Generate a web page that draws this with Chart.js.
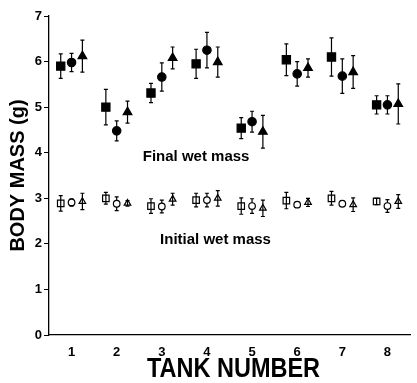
<!DOCTYPE html>
<html>
<head>
<meta charset="utf-8">
<script src="https://cdn.jsdelivr.net/npm/chart.js@4/dist/chart.umd.min.js"></script>
<style>
html,body{margin:0;padding:0;background:#fff;}
#wrap{width:417px;height:383px;}
</style>
</head>
<body>
<div id="wrap"><canvas id="c" width="417" height="383"></canvas></div>
<script>
const tanks = [1, 2, 3, 4, 5, 6, 7, 8];
const yTicks = [0, 1, 2, 3, 4, 5, 6, 7];

// Final wet mass (filled markers)
const finalSquare   = [5.90, 5.00, 5.31, 5.95, 4.54, 6.04, 6.10, 5.05];
const finalSquareE  = [0.27, 0.39, 0.21, 0.32, 0.23, 0.35, 0.42, 0.20];
const finalCircle   = [5.98, 4.48, 5.66, 6.25, 4.68, 5.73, 5.68, 5.05];
const finalCircleE  = [0.20, 0.22, 0.31, 0.39, 0.23, 0.27, 0.38, 0.20];
const finalTri      = [6.12, 4.89, 6.08, 5.99, 4.46, 5.86, 5.77, 5.07];
const finalTriE     = [0.35, 0.24, 0.24, 0.33, 0.36, 0.20, 0.36, 0.44];

// Initial wet mass (open markers)
const initSquare    = [2.89, 3.00, 2.83, 2.96, 2.83, 2.95, 3.00, 2.93];
const initSquareE   = [0.17, 0.13, 0.16, 0.15, 0.18, 0.18, 0.15, 0.07];
const initCircle    = [2.91, 2.88, 2.82, 2.96, 2.83, 2.86, 2.88, 2.83];
const initCircleE   = [0.08, 0.15, 0.14, 0.15, 0.16, 0.06, 0.06, 0.14];
const initTri       = [2.93, 2.89, 2.98, 3.00, 2.78, 2.91, 2.86, 2.93];
const initTriE      = [0.18, 0.06, 0.13, 0.17, 0.18, 0.09, 0.15, 0.15];

const xTitle = 'TANK NUMBER';
const OFF = 0.24;
function pts(vals, off) { return vals.map((v, i) => ({x: tanks[i] + off, y: v})); }

function ds(vals, errs, off, style, radius, fill) {
  return {
    data: pts(vals, off),
    err: errs,
    pointStyle: style,
    pointRadius: radius,
    pointHoverRadius: radius,
    pointBackgroundColor: fill,
    pointBorderColor: '#000',
    pointBorderWidth: 1.2,
    showLine: false
  };
}

const errorBars = {
  id: 'errorBars',
  beforeDatasetsDraw(chart) {
    const ctx = chart.ctx, ys = chart.scales.y;
    ctx.save();
    ctx.strokeStyle = '#000';
    ctx.lineWidth = 1.2;
    chart.data.datasets.forEach((d, di) => {
      const meta = chart.getDatasetMeta(di);
      d.data.forEach((p, i) => {
        const x = meta.data[i].x;
        const y1 = ys.getPixelForValue(p.y - d.err[i]);
        const y2 = ys.getPixelForValue(p.y + d.err[i]);
        ctx.beginPath();
        ctx.moveTo(x, y1); ctx.lineTo(x, y2);
        ctx.moveTo(x - 2, y1); ctx.lineTo(x + 2, y1);
        ctx.moveTo(x - 2, y2); ctx.lineTo(x + 2, y2);
        ctx.stroke();
      });
    });
    ctx.restore();
  },
  afterDraw(chart) {
    const ctx = chart.ctx, xs = chart.scales.x, ys = chart.scales.y;
    ctx.save();
    ctx.fillStyle = '#000';
    ctx.font = 'bold 15px "Liberation Sans", Arial, sans-serif';
    ctx.textAlign = 'center';
    ctx.textBaseline = 'middle';
    ctx.fillText('Final wet mass', xs.getPixelForValue(3.76), ys.getPixelForValue(3.91));
    ctx.fillText('Initial wet mass', xs.getPixelForValue(4.19), ys.getPixelForValue(2.09));
    // axis title, horizontally condensed
    const cx = (xs.getPixelForValue(4.0) + xs.getPixelForValue(5.0)) / 2 + 4;
    ctx.translate(cx, xs.bottom - 13);
    ctx.scale(0.87, 1);
    ctx.font = 'bold 27px "Liberation Sans", Arial, sans-serif';
    ctx.fillText(xTitle, 0, 0);
    ctx.restore();
  }
};

new Chart(document.getElementById('c'), {
  type: 'scatter',
  data: {
    datasets: [
      ds(finalSquare, finalSquareE, -OFF, 'rect', 5.8, '#000'),
      ds(finalCircle, finalCircleE, 0, 'circle', 4.2, '#000'),
      ds(finalTri, finalTriE, OFF, 'triangle', 5, '#000'),
      ds(initSquare, initSquareE, -OFF, 'rect', 4.6, 'rgba(0,0,0,0)'),
      ds(initCircle, initCircleE, 0, 'circle', 3.3, '#fff'),
      ds(initTri, initTriE, OFF, 'triangle', 3.8, 'rgba(0,0,0,0)')
    ]
  },
  options: {
    responsive: false,
    animation: false,
    layout: {padding: {top: 16, right: 0, left: 0, bottom: 0}},
    plugins: {legend: {display: false}, tooltip: {enabled: false}},
    scales: {
      x: {
        type: 'linear',
        min: 0.5, max: 8.5,
        afterBuildTicks: s => { s.ticks = tanks.map(v => ({value: v})); },
        afterFit: s => { s.height = 48; },
        grid: {display: false, drawTicks: false},
        border: {display: true, color: '#000', width: 1.3},
        ticks: {
          color: '#000', padding: 10,
          font: {family: '"Liberation Sans", Arial, sans-serif', size: 13, weight: 'bold'},
          callback: v => String(v)
        },
        title: {display: false}
      },
      y: {
        min: 0, max: 7,
        afterBuildTicks: s => { s.ticks = yTicks.map(v => ({value: v})); },
        afterFit: s => { s.width = 49; },
        grid: {display: true, drawOnChartArea: false, drawTicks: true, tickLength: 5, color: '#000', lineWidth: 1},
        border: {display: true, color: '#000', width: 1.3},
        ticks: {
          color: '#000', padding: 2,
          font: {family: '"Liberation Sans", Arial, sans-serif', size: 13, weight: 'bold'}
        },
        title: {
          display: true, text: 'BODY MASS (g)', color: '#000',
          padding: {top: 8, bottom: 0},
          font: {family: '"Liberation Sans", Arial, sans-serif', size: 20, weight: 'bold', lineHeight: 1}
        }
      }
    }
  },
  plugins: [errorBars]
});
</script>
</body>
</html>
